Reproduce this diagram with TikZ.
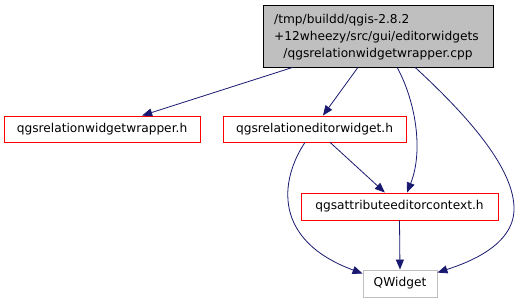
\documentclass[tikz,border=0pt]{standalone}
\usepackage{fontspec}
\setmainfont{DejaVu Sans}
\usetikzlibrary{arrows.meta,calc}
\definecolor{edgeblue}{HTML}{191970}
\definecolor{boxgray}{HTML}{BFBFBF}
\tikzset{
  file/.style={draw=red, line width=0.9pt, fill=white, inner sep=0pt, font=\fontsize{12.2}{14}\selectfont},
  extfile/.style={draw=boxgray, line width=0.9pt, fill=white, inner sep=0pt, font=\fontsize{12.2}{14}\selectfont},
  dep/.style={draw=edgeblue, line width=0.8pt, -{Triangle[length=10pt,width=8pt]}},
  lbl/.style={inner sep=0pt, font=\fontsize{12.2}{14}\selectfont}
}
\begin{document}
\begin{tikzpicture}[x=1pt,y=-1pt]
\useasboundingbox (0,0) rectangle (520,304);
% source file
\node[draw=black, fill=boxgray, line width=0.9pt, minimum width=230pt, minimum height=62pt, inner sep=0pt] (main) at (378,36) {};
\node[lbl, anchor=base west] (l1) at (274,24) {/tmp/buildd/qgis-2.8.2};
\node[lbl, anchor=base west] (l2) at (274,41) {+12wheezy/src/gui/editorwidgets};
\node[lbl, anchor=base] (l3) at (378,58) {/qgsrelationwidgetwrapper.cpp};
% included headers
\node[file, minimum width=196pt, minimum height=26pt] (wrap) at (102,129) {qgsrelationwidgetwrapper.h};
\node[file, minimum width=183pt, minimum height=26pt] (editor) at (314.5,129) {qgsrelationeditorwidget.h};
\node[file, minimum width=197pt, minimum height=27pt] (ctx) at (399.5,206.5) {qgsattributeeditorcontext.h};
\node[extfile, minimum width=74pt, minimum height=27pt] (qw) at (400,283.5) {QWidget};
% include edges
\draw[dep] ($(main.south west)!0.13!(main.south east)$) -- ($(wrap.north west)!0.704!(wrap.north east)$);
\draw[dep] ($(main.south west)!0.413!(main.south east)$) -- ($(editor.north west)!0.546!(editor.north east)$);
\draw[dep] ($(main.south west)!0.583!(main.south east)$) .. controls (415,100) and (424,150) .. ($(ctx.north west)!0.538!(ctx.north east)$);
\draw[dep] ($(main.south west)!0.661!(main.south east)$) .. controls (470,118) and (515,170) .. (514,210) .. controls (513,245) and (470,262) .. ($(qw.north east)+(0,3)$);
\draw[dep] ($(editor.south west)!0.585!(editor.south east)$) -- ($(ctx.north west)!0.426!(ctx.north east)$);
\draw[dep] ($(editor.south west)!0.448!(editor.south east)$) .. controls (280,180) and (272,240) .. ($(qw.north west)+(0,4)$);
\draw[dep] (ctx.south) -- (qw.north);
\end{tikzpicture}
\end{document}
